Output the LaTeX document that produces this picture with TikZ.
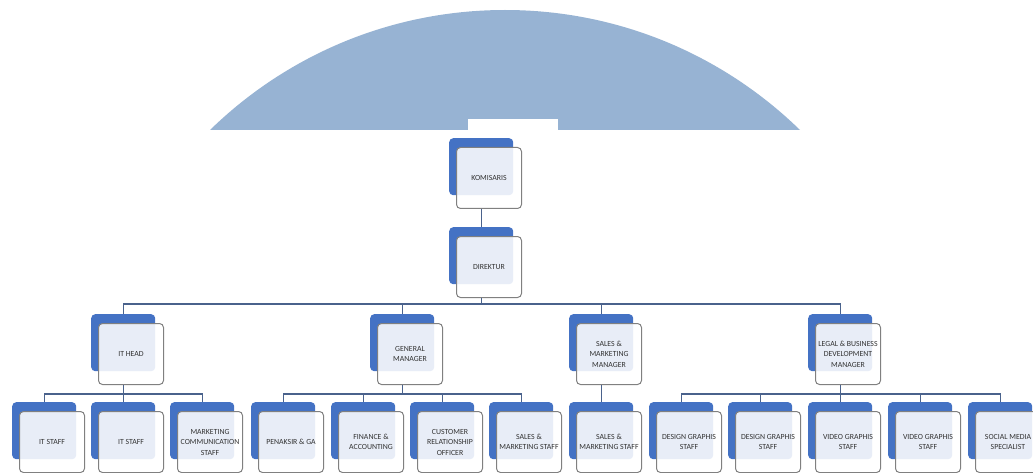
\documentclass[tikz,border=0pt]{standalone}
\usepackage{fontspec}
\setmainfont{Carlito}
\usetikzlibrary{calc}
\definecolor{dome}{HTML}{97B3D3}
\definecolor{backblue}{HTML}{4472C4}
\definecolor{conncol}{HTML}{4A628C}
\definecolor{boxline}{HTML}{808080}
\definecolor{txt}{HTML}{333333}
\tikzset{
 backbox/.style={fill=backblue, rounded corners=4pt, minimum width=64pt, minimum height=57pt, anchor=north west, inner sep=0pt},
 frontbox/.style={fill=white, fill opacity=0.88, text opacity=1, draw=boxline, line width=1pt, rounded corners=4pt, minimum width=65pt, minimum height=61pt, anchor=north west, inner sep=0pt, align=center, font=\fontsize{7.8}{10.5}\selectfont, text=txt},
 conn/.style={draw=conncol, line width=1.4pt},
}
\newcommand\orgunit[4]{%
  \node[backbox] (#1-b) at (#2,#3) {};
  \node[frontbox] (#1) at ({#2+7},{#3+9}) {#4};
}
\begin{document}
\begin{tikzpicture}[x=1pt,y=-1pt]
\useasboundingbox (0,0) rectangle (1033,473);
\begin{scope}
\clip (0,0) rectangle (1033,130);
\fill[dome] (505,432.6) circle[radius=422.6pt];
\end{scope}
\fill[white] (468,119) rectangle (558,130);

\orgunit{kom}{449}{138}{KOMISARIS}
\orgunit{dir}{449}{227}{DIREKTUR}

\orgunit{ith}{91}{314}{IT HEAD}
\orgunit{gm}{370}{314}{GENERAL\\MANAGER}
\orgunit{smm}{569}{314}{SALES \&\\MARKETING\\MANAGER}
\orgunit{lbd}{808}{314}{LEGAL \& BUSINESS\\DEVELOPMENT\\MANAGER}

\orgunit{its1}{12}{402}{IT STAFF}
\orgunit{its2}{91}{402}{IT STAFF}
\orgunit{mcs}{170}{402}{MARKETING\\COMMUNICATION\\STAFF}
\orgunit{pga}{251}{402}{PENAKSIR \& GA}
\orgunit{fa}{331}{402}{FINANCE \&\\ACCOUNTING}
\orgunit{cro}{410}{402}{CUSTOMER\\RELATIONSHIP\\OFFICER}
\orgunit{sms1}{489}{402}{SALES \&\\MARKETING STAFF}
\orgunit{sms2}{569}{402}{SALES \&\\MARKETING STAFF}
\orgunit{dgs1}{649}{402}{DESIGN GRAPHIS\\STAFF}
\orgunit{dgs2}{728}{402}{DESIGN GRAPHIS\\STAFF}
\orgunit{vgs1}{808}{402}{VIDEO GRAPHIS\\STAFF}
\orgunit{vgs2}{888}{402}{VIDEO GRAPHIS\\STAFF}
\orgunit{sms}{968}{402}{SOCIAL MEDIA\\SPECIALIST}

\draw[conn] (kom-b.center |- kom.south) -- (dir-b.north);
\foreach \c in {ith,gm,smm,lbd}
  \draw[conn] (dir-b.center |- dir.south) -- ++(0,6) -| (\c-b.north);
\foreach \c in {its1,its2,mcs}
  \draw[conn] (ith-b.center |- ith.south) -- ++(0,9) -| (\c-b.north);
\foreach \c in {pga,fa,cro,sms1}
  \draw[conn] (gm-b.center |- gm.south) -- ++(0,9) -| (\c-b.north);
\draw[conn] (smm-b.center |- smm.south) -- (sms2-b.north);
\foreach \c in {dgs1,dgs2,vgs1,vgs2,sms}
  \draw[conn] (lbd-b.center |- lbd.south) -- ++(0,9) -| (\c-b.north);
\end{tikzpicture}
\end{document}
